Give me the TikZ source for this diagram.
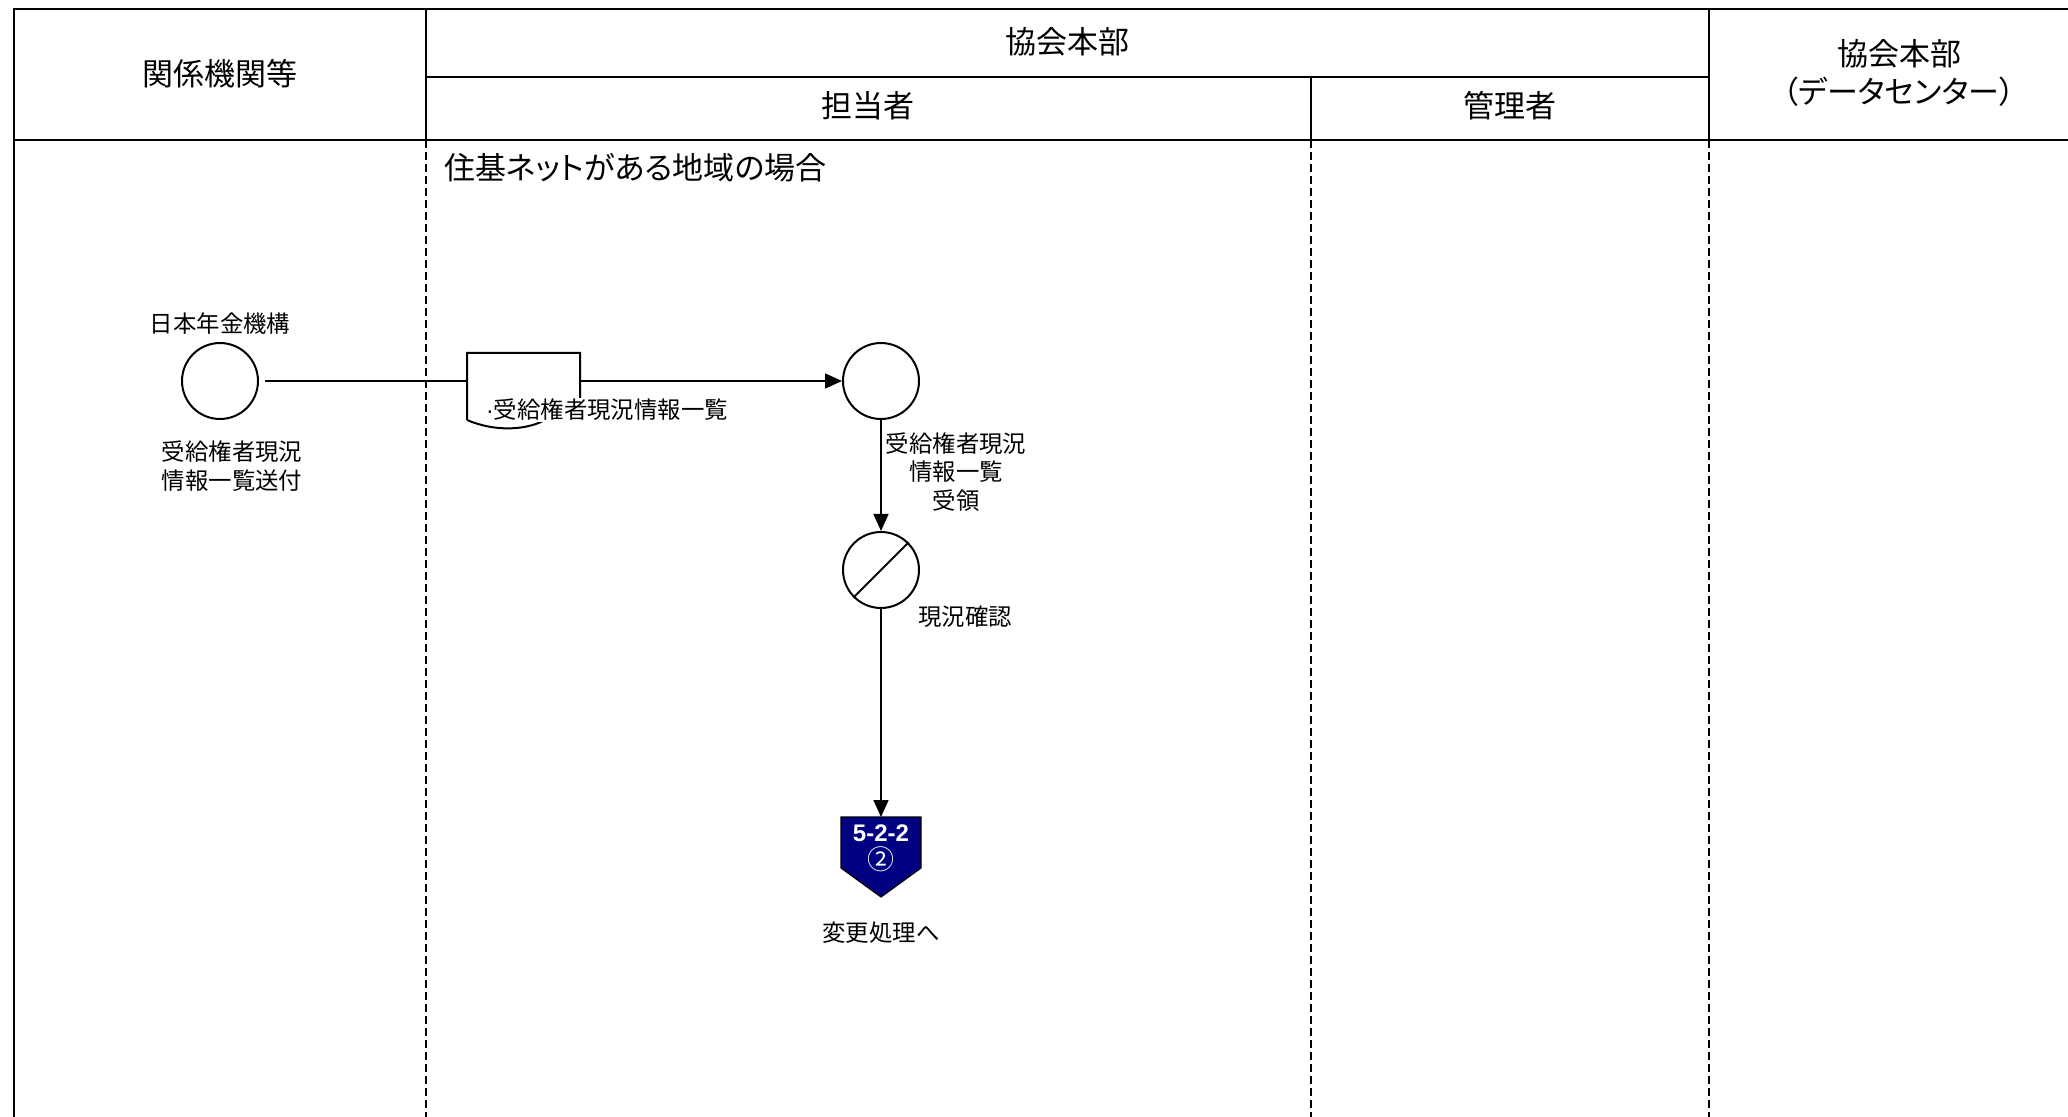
\documentclass[tikz,border=0pt]{standalone}
\usepackage{fontspec}
\newfontfamily\jp{Noto Sans CJK JP}
\newfontfamily\jpp[RawFeature=+palt]{Noto Sans CJK JP}
\newfontfamily\lat{Liberation Sans}
\usetikzlibrary{arrows.meta}
\definecolor{pagenavy}{RGB}{0,0,128}

\begin{document}
\begin{tikzpicture}[
    x=0.5pt, y=-0.5pt,
    lanehead/.style={font=\jp\fontsize{15.5}{19}\selectfont, align=center, inner sep=0pt},
    proc/.style={circle, draw, line width=1pt, minimum size=38pt, inner sep=0pt},
    lbl/.style={font=\jp\fontsize{11.7}{14.3}\selectfont, align=center, inner sep=1pt},
    frame/.style={line width=0.8pt},
    lanesep/.style={line width=0.8pt, dash pattern=on 4pt off 2pt},
    flow/.style={line width=0.8pt},
    >={Triangle[length=8.5pt,width=7.5pt]}
]
    \useasboundingbox (0,0) rectangle (2068,1117);

    % Swimlanes
    \draw[line width=1.2pt] (2068,9) -- (14,9) -- (14,1117);
    \draw[frame] (14,140) -- (2068,140);
    \draw[frame] (426,9) -- (426,140);
    \draw[frame] (1709,9) -- (1709,140);
    \draw[frame] (426,77) -- (1709,77);
    \draw[frame] (1311,77) -- (1311,140);
    \foreach \x in {426,1311,1709}
        \draw[lanesep] (\x,140) -- (\x,1117);

    % Lane headings
    \node[lanehead] (kankei) at (220,74) {関係機関等};
    \node[lanehead] (honbu) at (1067,42) {協会本部};
    \node[lanehead] (tanto) at (868,106) {担当者};
    \node[lanehead] (kanri) at (1510,106) {管理者};
    \node[lanehead, font=\jpp\fontsize{15.5}{19}\selectfont] (center) at (1899,73) {協会本部\\（データセンター）};
    \node[lanehead, font=\jpp\fontsize{15.5}{19}\selectfont, anchor=west] (case) at (444,168) {住基ネットがある地域の場合};

    % Steps
    \node[proc] (send) at (220,381) {};
    \node[proc] (recv) at (881,381) {};
    \node[proc] (check) at (881,570) {};
    \draw[line width=1pt] (check.225) -- (check.45);

    % Step labels
    \node[lbl] (nenkin) at (220,324) {日本年金機構};
    \node[lbl] (sendlbl) at (232,466) {受給権者現況\\情報一覧送付};
    \node[lbl] (recvlbl) at (956,472) {受給権者現況\\情報一覧\\受領};
    \node[lbl] (checklbl) at (965,617) {現況確認};

    % Edges
    \draw[flow, ->, shorten <=3pt] (send) -- (recv);
    \draw[flow, ->] (recv) -- (check);

    % Document on the flow
    \draw[line width=1pt, fill=white] (467,420) -- (467,353) -- (580,353) -- (580,412)
        .. controls (570,410) and (560,413) .. (543,421)
        .. controls (525,430) and (495,432) .. (467,420);
    \node[lbl, fill=white, inner sep=0.5pt] (doclbl) at (607,410) {{\lat·}受給権者現況情報一覧};

    % Off-page connector
    \coordinate (offtop) at (881,817);
    \draw[flow, ->] (check) -- (offtop);
    \filldraw[fill=pagenavy, draw=black, line width=0.6pt]
        (841,817) -- (921,817) -- (921,868) -- (881,897) -- (841,868) -- cycle;
    \node[font=\lat\bfseries\fontsize{12}{14}\selectfont, text=white, inner sep=0pt] (offno) at (881,833) {5-2-2};
    \node[font=\jp\fontsize{13.5}{15}\selectfont, text=white, inner sep=0pt] (offcirc) at (881,859) {②};
    \node[lbl] (henko) at (881,933) {変更処理へ};
\end{tikzpicture}
\end{document}
